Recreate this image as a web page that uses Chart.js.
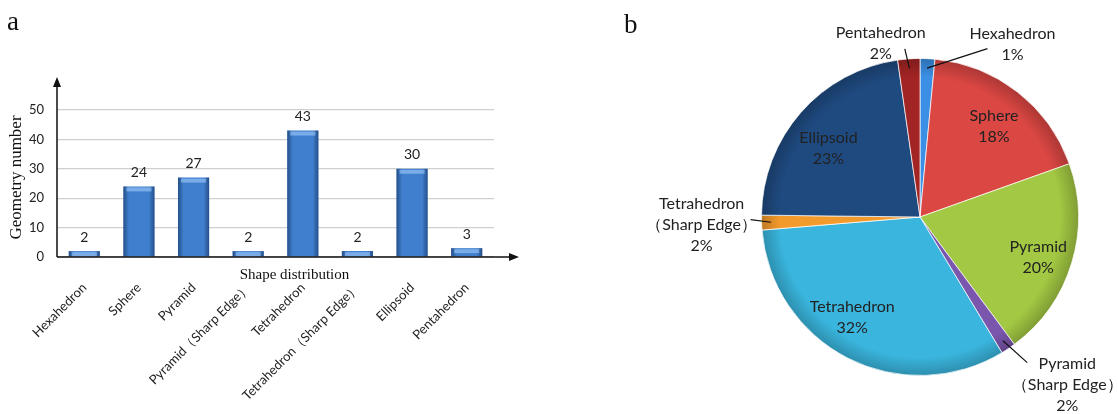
<!DOCTYPE html>
<html>
<head>
<meta charset="utf-8">
<script src="https://cdn.jsdelivr.net/npm/chart.js@4.4.0/dist/chart.umd.min.js"></script>
<style>
  body { margin: 0; background: #fff; }
  #pagina { position: relative; width: 1118px; height: 414px; overflow: hidden; }
  #conteiner-barra { position: absolute; left: 0; top: 0; width: 600px; height: 414px; }
  #conteiner-pizza { position: absolute; left: 610px; top: 0; width: 508px; height: 414px; }
  .letra { position: absolute; font-family: 'Liberation Serif', serif; font-size: 27px; line-height: 1; color: #111; }
</style>
</head>
<body>
<div id="pagina">
  <div id="conteiner-barra"><canvas id="barra" width="600" height="414"></canvas></div>
  <div id="conteiner-pizza"><canvas id="pizza" width="508" height="414"></canvas></div>
  <div class="letra" style="left:7px;top:8px">a</div>
  <div class="letra" style="left:624px;top:11px">b</div>
</div>
<script>
const categorias = ['Hexahedron', 'Sphere', 'Pyramid', 'Pyramid（Sharp Edge）', 'Tetrahedron',
                    'Tetrahedron（Sharp Edge）', 'Ellipsoid', 'Pentahedron'];
const valores = [2, 24, 27, 2, 43, 2, 30, 3];
const ticksY = [0, 10, 20, 30, 40, 50];
const percentuais = [1, 18, 20, 2, 32, 2, 23, 2];
const coresPizza = ['#3b8fe4', '#db4743', '#a3c843', '#7b56ad', '#3ab6de', '#f39a2c', '#1f4a80', '#a32424'];

const fonteSans = 'Lato, "Open Sans", sans-serif';
const fonteSerif = '"Liberation Serif", "Times New Roman", serif';

function escurecer(hex, f) {
    const n = parseInt(hex.slice(1), 16);
    const r = Math.round(((n >> 16) & 255) * f);
    const g = Math.round(((n >> 8) & 255) * f);
    const b = Math.round((n & 255) * f);
    return `rgb(${r},${g},${b})`;
}

// eixos com setas, títulos e valores acima das barras
const extrasBarra = {
    id: 'extrasBarra',
    afterDatasetsDraw(chart) {
        const ctx = chart.ctx;
        const a = chart.chartArea;
        const meta = chart.getDatasetMeta(0);
        ctx.save();
        meta.data.forEach((bar, i) => {
            const w = bar.width, x0 = bar.x - w / 2;
            const g = ctx.createLinearGradient(x0, 0, x0 + w, 0);
            g.addColorStop(0, 'rgba(10,30,70,0.5)');
            g.addColorStop(0.18, 'rgba(10,30,70,0)');
            g.addColorStop(0.82, 'rgba(10,30,70,0)');
            g.addColorStop(1, 'rgba(10,30,70,0.5)');
            ctx.fillStyle = g;
            ctx.fillRect(x0, bar.y, w, bar.base - bar.y);
            ctx.fillStyle = 'rgba(170,210,255,0.55)';
            ctx.fillRect(x0 + 3, bar.y + 1, w - 6, Math.min(4, bar.base - bar.y - 1));
            ctx.fillStyle = '#222';
            ctx.font = '14px ' + fonteSans;
            ctx.textAlign = 'center';
            ctx.textBaseline = 'bottom';
            ctx.fillText(String(valores[i]), bar.x, bar.y - 7);
        });

        ctx.strokeStyle = '#111';
        ctx.fillStyle = '#111';
        ctx.lineWidth = 1.5;
        ctx.beginPath();
        ctx.moveTo(a.left, a.bottom);
        ctx.lineTo(a.left, a.top - 26);
        ctx.moveTo(a.left, a.bottom);
        ctx.lineTo(a.right + 18, a.bottom);
        ctx.stroke();
        ctx.beginPath();
        ctx.moveTo(a.left, a.top - 33);
        ctx.lineTo(a.left - 4, a.top - 23);
        ctx.lineTo(a.left + 4, a.top - 23);
        ctx.closePath();
        ctx.fill();
        ctx.beginPath();
        ctx.moveTo(a.right + 25, a.bottom);
        ctx.lineTo(a.right + 15, a.bottom - 4);
        ctx.lineTo(a.right + 15, a.bottom + 4);
        ctx.closePath();
        ctx.fill();

        ctx.fillStyle = '#111';
        ctx.font = '15px ' + fonteSerif;
        ctx.textAlign = 'center';
        ctx.textBaseline = 'middle';
        ctx.fillText('Shape distribution', (a.left + a.right) / 2 + 19, a.bottom + 18);
        ctx.font = '17px ' + fonteSerif;
        ctx.translate(17, (a.top + a.bottom) / 2 - 6);
        ctx.rotate(-Math.PI / 2);
        ctx.fillText('Geometry number', 0, 0);
        ctx.restore();
    }
};

function gerarGraficoBarra() {
    new Chart(document.getElementById('barra'), {
        type: 'bar',
        data: {
            labels: categorias,
            datasets: [{
                data: valores,
                backgroundColor: '#3f7fcd',
                categoryPercentage: 1,
                barPercentage: 0.57
            }]
        },
        options: {
            responsive: false,
            animation: false,
            layout: { padding: { left: 0, right: 106, top: 110, bottom: 0 } },
            plugins: { legend: { display: false }, tooltip: { enabled: false } },
            scales: {
                x: {
                    afterFit: s => { s.height = 157; },
                    grid: { display: false, drawTicks: false },
                    border: { display: false },
                    ticks: {
                        autoSkip: false, maxRotation: 45, minRotation: 45, padding: 23,
                        color: '#222', font: { size: 13, family: fonteSans }
                    }
                },
                y: {
                    min: 0, max: 50,
                    afterFit: s => { s.width = 57; },
                    afterBuildTicks: s => { s.ticks = ticksY.map(v => ({ value: v })); },
                    grid: { color: '#cfcfcf', drawTicks: false, lineWidth: 1.2 },
                    border: { display: false },
                    ticks: { padding: 13, color: '#222', font: { size: 13, family: fonteSans } }
                }
            }
        },
        plugins: [extrasBarra]
    });
}

// rótulos da pizza: dentro das fatias grandes, fora com linha nas pequenas
const rotulosPizza = {
    id: 'rotulosPizza',
    afterDatasetsDraw(chart, args, opts) {
        const ctx = chart.ctx;
        const meta = chart.getDatasetMeta(0);
        ctx.save();
        ctx.font = '16px ' + fonteSans;
        ctx.fillStyle = '#222';
        ctx.textAlign = 'center';
        ctx.textBaseline = 'middle';
        meta.data.forEach((arc, i) => {
            const meio = (arc.startAngle + arc.endAngle) / 2;
            const r = arc.outerRadius;
            const linhas = categorias[i].replace('（', '\n（').split('\n').concat(percentuais[i] + '%');
            const fora = opts.fora[i];
            let tx, ty;
            if (fora) {
                const ox = arc.x + Math.cos(meio) * r, oy = arc.y + Math.sin(meio) * r;
                const ix = arc.x + Math.cos(meio) * r * 0.94, iy = arc.y + Math.sin(meio) * r * 0.94;
                const ex = ox + fora.linha[0], ey = oy + fora.linha[1];
                ctx.strokeStyle = '#111';
                ctx.lineWidth = 1.2;
                ctx.beginPath();
                ctx.moveTo(ix, iy);
                ctx.lineTo(ex, ey);
                ctx.stroke();
                tx = ex + fora.texto[0];
                ty = ey + fora.texto[1];
            } else {
                const aj = opts.ajuste[i] || [0, 0];
                tx = arc.x + Math.cos(meio) * r * opts.dentro + aj[0];
                ty = arc.y + Math.sin(meio) * r * opts.dentro - 10 + aj[1];
            }
            linhas.forEach((t, k) => ctx.fillText(t, tx, ty + k * 21));
        });
        ctx.restore();
    }
};

function gerarGraficoPizza() {
    new Chart(document.getElementById('pizza'), {
        type: 'pie',
        data: {
            labels: categorias,
            datasets: [{
                data: valores,
                backgroundColor: c => {
                    const base = coresPizza[c.dataIndex];
                    const a = c.chart.chartArea;
                    if (!a) return base;
                    const cx = (a.left + a.right) / 2, cy = (a.top + a.bottom) / 2;
                    const r = Math.min(a.right - a.left, a.bottom - a.top) / 2;
                    const g = c.chart.ctx.createRadialGradient(cx, cy, 0, cx, cy, r);
                    g.addColorStop(0, base);
                    g.addColorStop(0.88, base);
                    g.addColorStop(1, escurecer(base, 0.78));
                    return g;
                },
                borderColor: 'rgba(255,255,255,0.7)',
                borderWidth: 1
            }]
        },
        options: {
            responsive: false,
            animation: false,
            layout: { padding: { left: 151, right: 39, top: 58, bottom: 38 } },
            plugins: {
                legend: { display: false },
                tooltip: { enabled: false },
                rotulosPizza: {
                    dentro: 0.76,
                    ajuste: { 1: [0, 4], 2: [3, 5], 4: [-13, -7], 6: [-1, 10] },
                    fora: {
                        0: { linha: [60, -10], texto: [25, -15] },
                        3: { linha: [19, 14], texto: [40, 1] },
                        5: { linha: [-11, -3], texto: [-49, -16] },
                        7: { linha: [-4, -10], texto: [-24, -16] }
                    }
                }
            }
        },
        plugins: [rotulosPizza]
    });
}

gerarGraficoBarra();
gerarGraficoPizza();
</script>
</body>
</html>
